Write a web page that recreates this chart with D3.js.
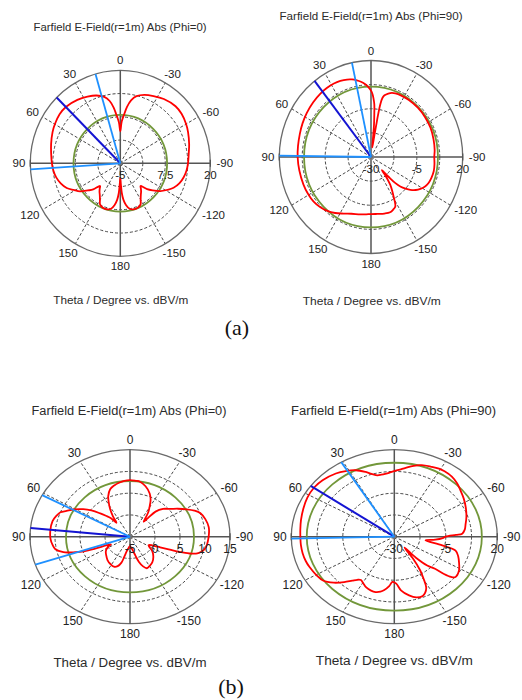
<!DOCTYPE html>
<html><head><meta charset="utf-8">
<script src="https://cdn.jsdelivr.net/npm/d3@7"></script>
<style>body{margin:0;background:#fff}svg{display:block}</style>
</head><body>
<svg id="c" width="522" height="700"></svg>
<script>
// ---------- data ----------
const angleTicks = [0, 30, 60, 90, 120, 150, 180, -150, -120, -90, -60, -30];
const titles = ["Farfield E-Field(r=1m) Abs (Phi=0)", "Farfield E-Field(r=1m) Abs (Phi=90)",
                "Farfield E-Field(r=1m) Abs (Phi=0)", "Farfield E-Field(r=1m) Abs (Phi=90)"];
const axisTitle = "Theta / Degree vs. dBV/m";
const panelLabels = ["(a)", "(b)"];

const ringLabelsA0 = [-5, 7.5, 20];
const ringLabelsA90 = [-30, -5, 20];
const ringLabelsB0 = [-5, 0, 5, 10, 15];
const ringLabelsB90 = [-30, -5, 20];

// [theta (deg), value (dBV/m)]
const redA0 = [
 [-178.5,0.5],[-177,3.0],[-175,4.8],[-172,6.3],[-168,7.5],[-164,7.9],[-158,7.9],[-153,7.4],[-150,6.3],[-146,5.2],
 [-143,4.6],[-140,3.9],[-137.5,3.3],[-136,3.6],[-133,5.2],[-129,6.6],[-124,8.4],[-119,9.8],[-114,11.2],[-108,12.3],
 [-102,13.0],[-96,13.5],[-90,13.8],[-82,14.2],[-75,14.8],[-66,15.6],[-60,16.1],[-52,16.6],[-45,16.7],[-35,16.1],
 [-27,15.3],[-20,14.6],[-14,13.6],[-10,12.2],[-7,10.3],[-5,8.5],[-2,6.2],[0,3.6],[2,6.0],[5,8.3],
 [7,10.1],[10,12.0],[14,13.4],[20,14.4],[27,15.1],[35,15.8],[45,16.4],[52,16.4],[60,16.0],[66,15.6],
 [75,14.9],[82,14.4],[90,14.0],[96,13.7],[102,13.2],[108,12.4],[114,11.3],[119,9.8],[124,8.5],[129,6.6],
 [133,5.3],[136,3.6],[137.5,3.3],[140,3.9],[143,4.6],[146,5.2],[150,6.3],[153,7.4],[158,7.9],[164,7.9],
 [168,7.5],[172,6.3],[175,4.8],[177,3.0],[178.5,0.5],[180,-1.0]
];
const redA90 = [
 [-180,-0.4],[-173,-0.3],[-166,0.2],[-160,0.5],[-156,-0.2],[-152.7,-1.1],[-149,-6.1],[-144,-12.1],[-140.5,-18],[-139,-21],
 [-137,-16],[-135.5,-11],[-133.7,-7.9],[-131,-5],[-128.4,-2.6],[-125,-0.2],[-121.5,1.6],[-117,3.3],[-113,4.2],[-108,4.7],
 [-102,5.0],[-96,4.8],[-90,4.5],[-84,4.9],[-75,5.3],[-65,5.8],[-55,6.0],[-45,6.1],[-35,6.0],[-27,5.8],
 [-22,5.5],[-19,5.1],[-16,4.2],[-13,2.8],[-11.5,1.2],[-10.5,-2.5],[-10,-8],[-9.8,-13],[-9.4,-18],[-9,-22],
 [-8,-25],[-6.5,-21],[-5.6,-13.1],[-4.5,-7],[-3.8,-2.7],[-2.5,0.5],[-1,3.3],[1,5.2],[3,6.8],[5,8.0],
 [8,9.4],[11,10.5],[14.5,11.5],[18,12.2],[23,12.8],[28,13.1],[34,13.1],[40,12.9],[48,12.4],[57,11.8],
 [65,11.2],[73,10.6],[82,10.2],[90,10.0],[100,9.7],[111,9.5],[119,9.3],[126.5,8.9],[133,8.0],[139,6.8],
 [146,5.0],[153,2.9],[160,1.3],[169,0.3],[175,-0.2]
];
const redB0 = [
 [-180,-2.8],[-175,-2.5],[-170,-1.8],[-166,-0.5],[-163,1.0],[-159,2.3],[-155,3.0],[-150,2.8],[-143,2.4],[-135,1.6],
 [-127,0.6],[-121,-0.5],[-117,-0.8],[-114,0.0],[-112,1.5],[-110.5,3.5],[-109.5,5.5],[-108,7.5],[-106,9.0],[-104,9.6],
 [-100,10.3],[-91,10.7],[-82,10.9],[-75,10.6],[-69,10.1],[-65,9.2],[-61,8.0],[-56,6.5],[-51.7,5.3],[-46,4.2],
 [-41.5,2.7],[-40,0.5],[-38.5,-0.6],[-36,0.2],[-33,1.7],[-29.7,2.9],[-26,4.4],[-21.6,5.7],[-15,7.0],[-9,7.8],
 [-5,7.9],[0,8.0],[5,7.9],[10,7.6],[15,7.2],[20,6.6],[25,5.3],[28,4.1],[32,2.5],[36,0.8],
 [39,-0.6],[40.5,-0.8],[42,0.8],[45,1.8],[48,3.0],[52,4.8],[56,6.3],[61,7.9],[65,9.0],[68,10.0],
 [72,10.5],[77,10.9],[85,11.0],[92,10.9],[97,10.6],[101,10.2],[105,8.8],[108,6.5],[110,4.8],[111.5,2.5],
 [113,0.0],[115,-0.8],[118,0.0],[125,0.9],[132,1.4],[140,2.0],[148,2.4],[155,2.6],[160,2.2],[164,1.2],
 [166,-0.2],[169,-1.6],[173,-2.3],[177,-2.7]
];
const redB90 = [
 [-178,-3.0],[-174,1.0],[-168,4.5],[-163,6.5],[-158,6.8],[-155,5.5],[-152,3.0],[-149.5,-2],[-147,-7],[-144,-15],
 [-141.7,-22],[-139,-14],[-136,-7],[-133,-3],[-131.7,2],[-130,6],[-128,7.7],[-122,7.0],[-116,5.0],[-110,3.0],
 [-105,0.8],[-102,-6.2],[-98,-14.7],[-95,-10],[-92,-6.5],[-90,-5.1],[-88,0],[-87,3.0],[-83,4.5],[-79,5.2],
 [-72,6.8],[-64,8.6],[-57,10.2],[-50,11.8],[-45,13.2],[-39,14.4],[-33,14.8],[-29,14.7],[-24,14.0],[-18,13.2],
 [-13,11.8],[-8,10.0],[-4,8.7],[0,7.7],[4,6.8],[7,6.4],[10,6.2],[13,6.2],[17,7.8],[20.5,9.7],
 [26,12.5],[32,14.5],[38,16.1],[47,17.6],[54,18.1],[62,17.8],[70,17.0],[78,16.3],[85,15.8],[90,15.6],
 [96,15.6],[102,15.5],[108,15.2],[113,14.7],[120,13.8],[126,12.8],[132,9.5],[137,5.7],[141,2.5],[144,0.6],
 [147,-0.3],[150,0.5],[155,2.2],[160,3.0],[164,3.1],[168,2.3],[171,1.0],[175,-1.5],[178,-4.0]
];
const greenLevels = [8.0, 6.5, 7.8, 12.5];
// [main lobe direction, 3 dB angle 1, 3 dB angle 2]
const blueA0 = [45, 16, 93.8];
const blueA90 = [38, 12, 89.2];
const blueB0 = [84.3, 61.5, 108.8];
const blueB90 = [54.3, 31, 91.3];

// ---------- layout ----------
const svg = d3.select("#c");
const plots = [
 {title: titles[0], data: redA0, green: greenLevels[0], blue: blueA0, domain: [-5, 20], rings: ringLabelsA0,
  cx: 120.3, cy: 163.3, rx: 90, ry: 93, tx: 120, ty: 30.5, tw: 173, ax: 120.8, ay: 304, aw: 135, fs: 11.5},
 {title: titles[1], data: redA90, green: greenLevels[1], blue: blueA90, domain: [-30, 20], rings: ringLabelsA90,
  cx: 371, cy: 157, rx: 91.7, ry: 96.5, tx: 371, ty: 20, tw: 183, ax: 371.8, ay: 305, aw: 138, fs: 11.5},
 {title: titles[2], data: redB0, green: greenLevels[2], blue: blueB0, domain: [-5, 15], rings: ringLabelsB0,
  cx: 130, cy: 536.7, rx: 100, ry: 87, tx: 129, ty: 415, tw: 195, ax: 130, ay: 667, aw: 153, fs: 12},
 {title: titles[3], data: redB90, green: greenLevels[3], blue: blueB90, domain: [-30, 20], rings: ringLabelsB90,
  cx: 394.3, cy: 536.7, rx: 103, ry: 87, tx: 393.5, ty: 415, tw: 205, ax: 394.3, ay: 665, aw: 157, fs: 12}
];

const FONT = "'Liberation Sans', Arial, sans-serif";
const ang = d3.scaleLinear().domain([0, 360]).range([0, 2 * Math.PI]);

function drawPlot(p) {
  const g = svg.append("g");
  const rs = d3.scaleLinear().domain(p.domain).range([0, 1]).clamp(true);
  const X = (t, r) => p.cx - p.rx * r * Math.sin(ang(t));
  const Y = (t, r) => p.cy - p.ry * r * Math.cos(ang(t));

  // dashed rings
  const ringVals = d3.range(1, 4).map(i => p.domain[0] + (p.domain[1] - p.domain[0]) * i / 4);
  g.selectAll(".ring").data(ringVals).join("ellipse")
    .attr("cx", p.cx).attr("cy", p.cy)
    .attr("rx", d => p.rx * rs(d)).attr("ry", d => p.ry * rs(d))
    .attr("fill", "none").attr("stroke", "#333").attr("stroke-width", 0.9).attr("stroke-dasharray", "3,2");
  // dashed spokes
  g.selectAll(".spoke").data(angleTicks.filter(a => a % 90 !== 0)).join("line")
    .attr("x1", p.cx).attr("y1", p.cy)
    .attr("x2", d => X(d, 1)).attr("y2", d => Y(d, 1))
    .attr("stroke", "#333").attr("stroke-width", 0.9).attr("stroke-dasharray", "3,2");
  // outer circle
  g.append("ellipse").attr("cx", p.cx).attr("cy", p.cy).attr("rx", p.rx).attr("ry", p.ry)
    .attr("fill", "none").attr("stroke", "#6a6a6a").attr("stroke-width", 1.3);
  // axes
  [[0, 180], [90, -90]].forEach(([a, b]) => {
    g.append("line").attr("x1", X(a, 1)).attr("y1", Y(a, 1)).attr("x2", X(b, 1)).attr("y2", Y(b, 1))
      .attr("stroke", "#555").attr("stroke-width", 1.5);
  });
  [90, -90].forEach(a => {
    g.append("line").attr("x1", X(a, 1)).attr("x2", X(a, 1)).attr("y1", p.cy - 3.5).attr("y2", p.cy + 3.5)
      .attr("stroke", "#555").attr("stroke-width", 1.3);
  });
  g.append("circle").attr("cx", p.cx).attr("cy", p.cy).attr("r", 2).attr("fill", "#777");

  // green reference
  g.append("ellipse").attr("cx", p.cx).attr("cy", p.cy)
    .attr("rx", p.rx * rs(p.green)).attr("ry", p.ry * rs(p.green))
    .attr("fill", "none").attr("stroke", "#72973a").attr("stroke-width", 1.8);

  // red pattern
  const line = d3.line()
    .x(d => X(d[0], rs(d[1]))).y(d => Y(d[0], rs(d[1])))
    .curve(d3.curveCatmullRomClosed.alpha(0.5));
  g.append("path").attr("d", line(p.data)).attr("fill", "none")
    .attr("stroke", "#ff0000").attr("stroke-width", 1.8).attr("stroke-linejoin", "round");

  // blue markers
  p.blue.forEach((a, i) => {
    g.append("line").attr("x1", p.cx).attr("y1", p.cy).attr("x2", X(a, 1)).attr("y2", Y(a, 1))
      .attr("stroke", i === 0 ? "#1414d2" : "#1e90ff").attr("stroke-width", i === 0 ? 2 : 1.8);
  });

  // angle labels
  const gap = 5;
  angleTicks.forEach(a => {
    const ux = -Math.sin(ang(a)), uy = -Math.cos(ang(a));
    const txt = String(a);
    const w = txt.length * 6.3;
    const x = p.cx + ux * (p.rx + gap) + ux * w / 2;
    const y = p.cy + uy * (p.ry + gap) + uy * 5;
    g.append("text").attr("x", x).attr("y", y).attr("dy", "0.35em").attr("text-anchor", "middle")
      .attr("font-family", FONT).attr("font-size", p.fs).attr("fill", "#222").text(txt);
  });
  // radial value labels
  p.rings.forEach(v => {
    g.append("text").attr("x", p.cx + p.rx * rs(v)).attr("y", p.cy + 12).attr("dy", "0.35em")
      .attr("text-anchor", "middle").attr("font-family", FONT).attr("font-size", p.fs).attr("fill", "#222")
      .text(String(v));
  });
  // titles
  g.append("text").attr("x", p.tx).attr("y", p.ty).attr("text-anchor", "middle")
    .attr("font-family", FONT).attr("font-size", p.fs).attr("fill", "#2b2b2b")
    .attr("textLength", p.tw).attr("lengthAdjust", "spacingAndGlyphs").text(p.title);
  g.append("text").attr("x", p.ax).attr("y", p.ay).attr("text-anchor", "middle")
    .attr("font-family", FONT).attr("font-size", p.fs).attr("fill", "#2b2b2b")
    .attr("textLength", p.aw).attr("lengthAdjust", "spacingAndGlyphs").text(axisTitle);
}
plots.forEach(drawPlot);

svg.append("text").attr("x", 237).attr("y", 335).attr("text-anchor", "middle")
  .attr("font-family", "'Liberation Serif', 'Times New Roman', serif").attr("font-size", 22).attr("fill", "#111")
  .text(panelLabels[0]);
svg.append("text").attr("x", 231).attr("y", 694).attr("text-anchor", "middle")
  .attr("font-family", "'Liberation Serif', 'Times New Roman', serif").attr("font-size", 22).attr("fill", "#111")
  .text(panelLabels[1]);
</script>
</body></html>
